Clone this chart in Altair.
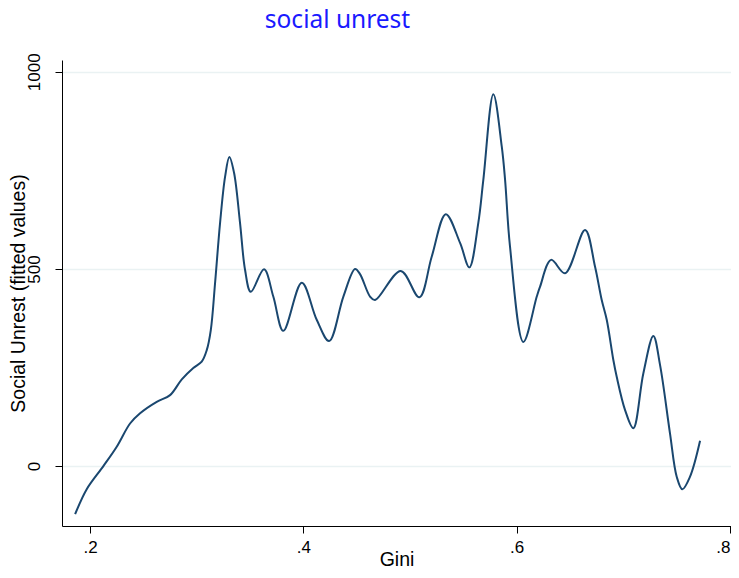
import altair as alt
import pandas as pd

gini = [0.186, 0.197, 0.2125, 0.225, 0.2375, 0.2469, 0.2625, 0.275, 0.286, 0.2968,
        0.3047, 0.3094, 0.3132, 0.3172, 0.3219, 0.3266, 0.3306, 0.3350, 0.3406, 0.3453,
        0.3507, 0.3631, 0.3718, 0.3812, 0.3985, 0.4125, 0.4241, 0.4375, 0.4484, 0.4531,
        0.4625, 0.4672, 0.4913, 0.5087, 0.5203, 0.5335, 0.5469, 0.5556, 0.5640, 0.5687,
        0.5781, 0.5860, 0.5891, 0.5937, 0.6062, 0.6188, 0.6219, 0.6322, 0.6453, 0.6641,
        0.6734, 0.6797, 0.6844, 0.6906, 0.6937, 0.7016, 0.7093, 0.7187, 0.7281, 0.7344,
        0.7437, 0.7500, 0.7553, 0.7625, 0.7719]
unrest = [-122, -58, 0, 49, 108, 134, 163, 180, 220, 249,
          265, 294, 345, 464, 617, 734, 784, 744, 617, 498,
          442, 499, 430, 343, 465, 371, 317, 430, 500, 487,
          430, 421, 495, 428, 531, 639, 566, 504, 617, 726,
          943, 810, 726, 557, 315, 430, 455, 523, 489, 599,
          506, 421, 371, 269, 227, 142, 96, 235, 330, 256,
          83, -27, -59, -27, 64]

x_ticks = [0.2, 0.4, 0.6, 0.8]
y_ticks = [0, 500, 1000]

df = pd.DataFrame({"Gini": gini, "Unrest": unrest})

chart = alt.Chart(df).mark_line(
    color="#1a476f", strokeWidth=2, interpolate="catmull-rom"
).encode(
    x=alt.X("Gini:Q",
            scale=alt.Scale(domain=[0.1737, 0.8009], nice=False, zero=False),
            axis=alt.Axis(title="Gini", values=x_ticks, grid=False, labelFlush=3,
                          labelExpr="substring(format(datum.value, '.1f'), 1)",
                          domainColor="black", tickColor="black", tickSize=7,
                          labelFont="Liberation Sans", labelFontSize=17, labelColor="black",
                          labelPadding=6, titleFont="Liberation Sans", titleFontSize=19.5,
                          titleFontWeight="normal", titleColor="black",
                          titleBaseline="alphabetic", titleY=39)),
    y=alt.Y("Unrest:Q",
            scale=alt.Scale(domain=[-152, 1030], nice=False, zero=False),
            axis=alt.Axis(title="Social Unrest (fitted values)", values=y_ticks, format="d",
                          grid=True, gridColor="#eaf2f3", gridWidth=1.5,
                          labelAngle=-90, labelAlign="center", labelBaseline="bottom",
                          domainColor="black", tickColor="black", tickSize=7,
                          labelFont="Liberation Sans", labelFontSize=17, labelColor="black",
                          labelPadding=12, titleFont="Liberation Sans", titleFontSize=19.5,
                          titleFontWeight="normal", titleColor="black",
                          titleBaseline="alphabetic", titleX=-38)),
).properties(
    width=669,
    height=466,
    title=alt.TitleParams("social unrest", font="Noto Sans", fontSize=24.5,
                          fontWeight="normal", color="#1a1aff", anchor="middle",
                          frame="group", dx=-59, offset=19),
    autosize=alt.AutoSizeParams(type="none"),
    padding={"left": 54, "top": 52, "right": 0, "bottom": 42},
).configure_view(stroke=None)

chart.save("out.html", embed_options={"renderer": "svg", "actions": False})
